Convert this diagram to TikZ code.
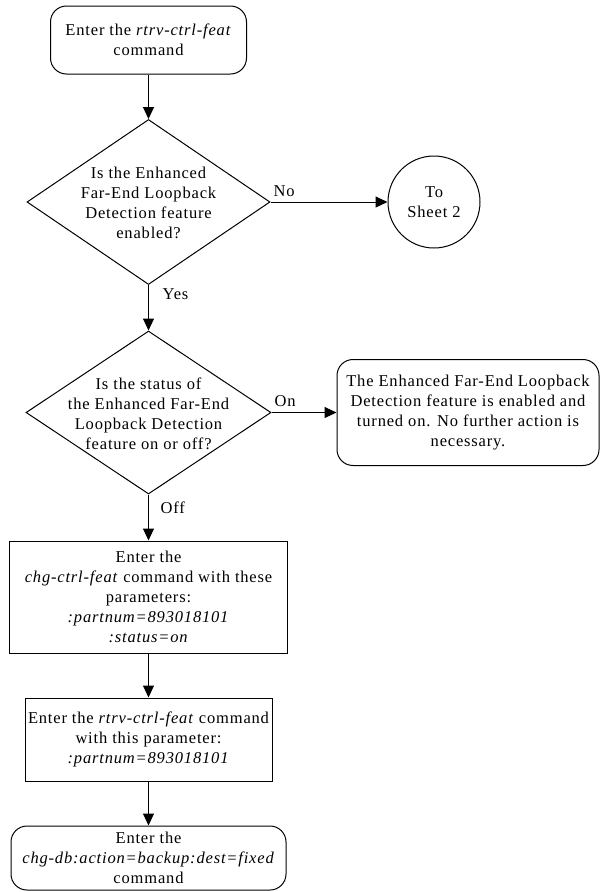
\documentclass[tikz,border=0pt]{standalone}
\usepackage{fontspec}
\setmainfont{Liberation Serif}[LetterSpace=5]
\usetikzlibrary{shapes.geometric,arrows.meta}
\begin{document}
\begin{tikzpicture}[x=1pt,y=-1pt,
  every node/.style={font=\fontsize{16.5}{20}\selectfont},
  box/.style={draw,line width=1pt,inner sep=0pt,align=center},
  rbox/.style={box,rounded corners=16pt},
  dia/.style={draw,line width=1pt,diamond,inner sep=0pt},
  txt/.style={align=center,inner sep=0pt},
  lbl/.style={inner sep=0pt},
  arr/.style={line width=1pt,-{Triangle[length=12pt,width=11pt]}}
]
\useasboundingbox[fill=white] (0,0) rectangle (600,892);

\node[rbox,minimum width=196pt,minimum height=68pt] (start) at (148.5,40)
  {Enter the \textit{rtrv-ctrl-feat}\\command};

\node[dia,minimum width=243pt,minimum height=165pt] (d1) at (148.5,202) {};
\node[txt] (d1t) at (148.5,203)
  {Is the Enhanced\\Far-End Loopback\\Detection feature\\enabled?};

\node[draw,line width=1pt,circle,minimum size=92pt,inner sep=0pt,align=center] (c1) at (434,202)
  {To\\Sheet 2};

\node[dia,minimum width=245pt,minimum height=163pt] (d2) at (148.5,412.5) {};
\node[txt] (d2t) at (148.5,413.5)
  {Is the status of\\the Enhanced Far-End\\Loopback Detection\\feature on or off?};

\node[rbox,minimum width=262pt,minimum height=106pt] (done) at (468,412.5)
  {The Enhanced Far-End Loopback\\Detection feature is enabled and\\turned on. No further action is\\necessary.};

\node[box,minimum width=278pt,minimum height=112pt] (chg) at (148.5,597)
  {Enter the\\\textit{chg-ctrl-feat} command with these\\parameters:\\\textit{:partnum=893018101}\\\textit{:status=on}};

\node[box,minimum width=247pt,minimum height=83pt] (rtrv) at (148.5,739.5)
  {Enter the \textit{rtrv-ctrl-feat} command\\with this parameter:\\\textit{:partnum=893018101}};

\node[rbox,minimum width=275pt,minimum height=64pt] (db) at (148.5,858)
  {Enter the\\\textit{chg-db:action=backup:dest=fixed}\\command};

\draw[arr] (start.south) -- (d1.north);
\draw[arr] (d1.east) -- (c1.west);
\draw[arr] (d1.south) -- (d2.north);
\draw[arr] (d2.east) -- (done.west);
\draw[arr] (d2.south) -- (chg.north);
\draw[arr] (chg.south) -- (rtrv.north);
\draw[arr] (rtrv.south) -- (db.north);

\node[lbl,anchor=base west] (lno) at ([xshift=3pt,yshift=6pt]d1.east) {No};
\node[lbl,anchor=base west] (lyes) at ([xshift=14pt,yshift=-14pt]d1.south) {Yes};
\node[lbl,anchor=base west] (lon) at ([xshift=3pt,yshift=6pt]d2.east) {On};
\node[lbl,anchor=base west] (loff) at ([xshift=12pt,yshift=-19pt]d2.south) {Off};
\end{tikzpicture}
\end{document}
